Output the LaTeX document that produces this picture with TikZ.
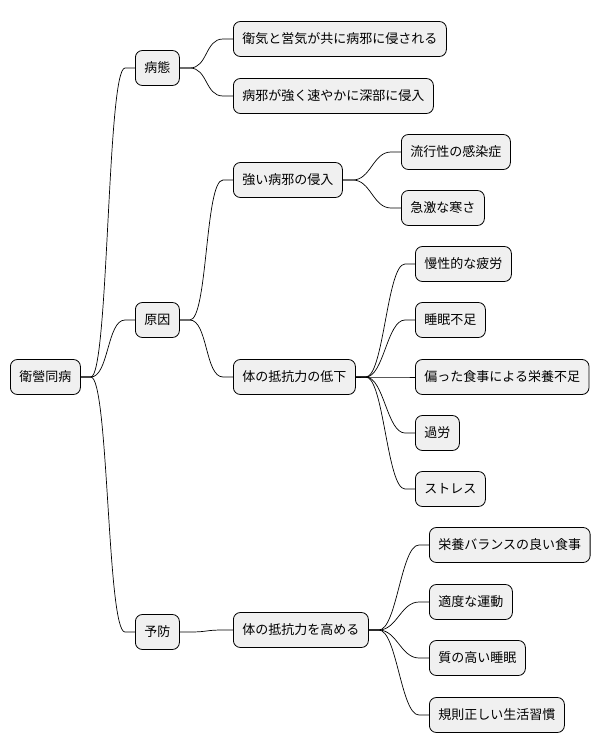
\documentclass[tikz,border=0pt]{standalone}
\usepackage{fontspec}
\setmainfont{Noto Sans CJK JP}
\begin{document}
\begin{tikzpicture}[x=1pt,y=-1pt,
  box/.style={draw=black,fill=black!6,rounded corners=7pt,line width=0.8pt,anchor=west,minimum height=35pt,inner xsep=9pt,font=\fontsize{13}{15}\selectfont},
  link/.style={line width=0.7pt}]
\useasboundingbox (0,0) rectangle (614,752);
\node[box] (r) at (10,377) {衛營同病};
\node[box] (a) at (135,68) {病態};
\node[box] (b) at (135,320) {原因};
\node[box] (c) at (135,632) {予防};
\node[box] (a1) at (233,39) {衛気と営気が共に病邪に侵される};
\node[box] (a2) at (233,96) {病邪が強く速やかに深部に侵入};
\node[box] (b1) at (233,180) {強い病邪の侵入};
\node[box] (b2) at (233,377) {体の抵抗力の低下};
\node[box] (c1) at (233,630) {体の抵抗力を高める};
\node[box] (b11) at (401,152) {流行性の感染症};
\node[box] (b12) at (401,208) {急激な寒さ};
\node[box] (b21) at (415,264) {慢性的な疲労};
\node[box] (b22) at (415,320) {睡眠不足};
\node[box] (b23) at (415,377) {偏った食事による栄養不足};
\node[box] (b24) at (415,433) {過労};
\node[box] (b25) at (415,489) {ストレス};
\node[box] (c11) at (429,545) {栄養バランスの良い食事};
\node[box] (c12) at (429,602) {適度な運動};
\node[box] (c13) at (429,658) {質の高い睡眠};
\node[box] (c14) at (429,715) {規則正しい生活習慣};
\foreach \p/\c in {r/a,r/b,r/c,a/a1,a/a2,b/b1,b/b2,c/c1,b1/b11,b1/b12,b2/b21,b2/b22,b2/b23,b2/b24,b2/b25,c1/c11,c1/c12,c1/c13,c1/c14}
  \draw[link] (\p.east) -- ++(10,0) .. controls +(18,0) and +(-18,0) .. ([xshift=-10pt]\c.west) -- (\c.west);
\end{tikzpicture}
\end{document}
